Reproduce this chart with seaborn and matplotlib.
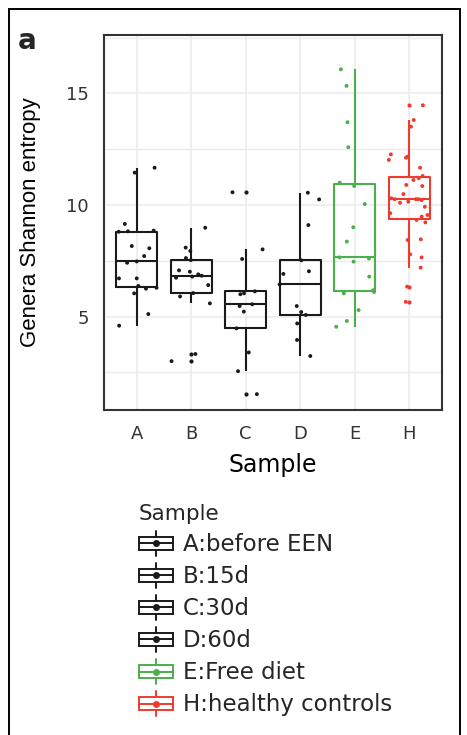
import numpy as np
import pandas as pd
import matplotlib
matplotlib.use('Agg')
import matplotlib.pyplot as plt
import seaborn as sns
from matplotlib.legend_handler import HandlerBase
from matplotlib.patches import Rectangle
from matplotlib.lines import Line2D

# ---------------- data ----------------
categories = ['A', 'B', 'C', 'D', 'E', 'H']
legend_labels = ['A:before EEN', 'B:15d', 'C:30d', 'D:60d', 'E:Free diet', 'H:healthy controls']

values_A = [4.59, 5.11, 6.04, 6.25, 6.29, 6.37, 6.71, 6.71, 7.41, 7.47, 7.71, 8.06, 8.16,
            8.80, 8.82, 8.85, 9.15, 11.45, 11.67]
values_B = [3.00, 3.32, 5.59, 5.90, 6.05, 6.41, 6.74, 6.79, 6.83, 6.89, 7.01, 7.07, 7.53,
            7.62, 7.94, 8.09, 8.98]
values_C = [1.52, 2.55, 3.39, 4.47, 5.22, 5.47, 5.55, 6.00, 6.04, 6.13, 7.58, 8.01, 10.57]
values_D = [3.23, 3.95, 4.69, 5.07, 5.20, 5.47, 6.44, 6.91, 7.03, 7.52, 9.10, 10.25, 10.55]
values_E = [4.54, 4.80, 5.29, 6.04, 6.10, 6.18, 6.79, 7.46, 7.60, 7.65, 8.36, 9.00, 10.04,
            10.85, 11.00, 12.59, 13.71, 15.34, 16.08]
values_H = [5.66, 6.34, 7.19, 7.65, 7.79, 8.43, 8.46, 9.22, 9.33, 9.48, 9.55, 9.63, 9.92,
            10.10, 10.15, 10.22, 10.26, 10.26, 10.26, 10.30, 10.49, 10.85, 10.90, 11.12,
            11.20, 11.30, 11.67, 12.02, 12.12, 12.17, 12.27, 13.51, 13.81, 14.47]

y_ticks = [5, 10, 15]

# ---------------- styles ----------------
colors = ['#1a1a1a', '#1a1a1a', '#1a1a1a', '#1a1a1a', '#4cae4c', '#ee3b2e']
palette = dict(zip(categories, colors))

all_values = [values_A, values_B, values_C, values_D, values_E, values_H]
df = pd.DataFrame({
    'Sample': np.concatenate([[c] * len(v) for c, v in zip(categories, all_values)]),
    'Entropy': np.concatenate(all_values),
})

sns.set_theme(style='white')
plt.rcParams['font.family'] = ['DejaVu Sans']

W, H = 467, 735
fig = plt.figure(figsize=(W / 100, H / 100), dpi=100)
fig.patch.set_facecolor('white')

def fx(px):
    return px / W

def fy(py):
    return 1 - py / H

ax = fig.add_axes([fx(104), fy(410), fx(442) - fx(104), fy(35) - fy(410)])

sns.boxplot(data=df, x='Sample', y='Entropy', hue='Sample', order=categories,
            hue_order=categories, palette=palette, fill=False, width=0.75,
            linewidth=1.5, whis=1.5, showcaps=False, dodge=False, legend=False,
            flierprops=dict(marker='o', markersize=3.0), ax=ax, zorder=2)
for ln in ax.lines:
    m = ln.get_marker()
    if m not in (None, 'None', '', ' '):
        ln.set_markerfacecolor(ln.get_markeredgecolor())
        ln.set_markeredgewidth(0)

np.random.seed(7)
sns.stripplot(data=df, x='Sample', y='Entropy', hue='Sample', order=categories,
              hue_order=categories, palette=palette, jitter=0.38, size=2.8,
              linewidth=0, legend=False, ax=ax, zorder=3)

ax.set_xlim(-0.6, 5.6)
ax.set_ylim(0.81, 17.62)
ax.set_yticks(y_ticks)
ax.set_yticks([2.5, 7.5, 12.5, 17.5], minor=True)
ax.set_xticks(range(len(categories)))
ax.set_xticklabels(categories)
ax.grid(True, which='major', color='#ebebeb', linewidth=1.1, zorder=0)
ax.grid(True, which='minor', axis='y', color='#ebebeb', linewidth=1.0, zorder=0)
ax.set_axisbelow(True)
for sp in ax.spines.values():
    sp.set_visible(True)
    sp.set_color('#333333')
    sp.set_linewidth(1.5)
ax.tick_params(axis='both', which='major', length=6, width=1.2, color='#333333',
               labelcolor='#333333', labelsize=13, pad=5)
ax.tick_params(axis='both', which='minor', length=0)
ax.set_xlabel('')
ax.set_ylabel('')

# axis titles
fig.text(fx(273), fy(465), 'Sample', ha='center', va='center', fontsize=17, color='black')
fig.text(fx(31), fy(222), 'Genera Shannon entropy', ha='center', va='center',
         rotation=90, fontsize=16, color='black', family=['Liberation Sans', 'DejaVu Sans'])

# panel letter
fig.text(fx(18), fy(49), 'a', ha='left', va='baseline', fontsize=20, fontweight='bold')

# legend
class BoxKeyHandler(HandlerBase):
    def create_artists(self, legend, orig_handle, xdescent, ydescent, width, height,
                       fontsize, trans):
        c = orig_handle.get_color()
        x0, y0 = -xdescent, -ydescent
        cx, cy = x0 + width / 2, y0 + height / 2
        bh = height * 0.54
        lw = 1.4
        box = Rectangle((x0, cy - bh / 2), width, bh, fill=False, edgecolor=c, lw=lw,
                        transform=trans)
        med = Line2D([x0, x0 + width], [cy, cy], color=c, lw=lw, transform=trans)
        w1 = Line2D([cx, cx], [cy + bh / 2, y0 + height], color=c, lw=lw, transform=trans)
        w2 = Line2D([cx, cx], [y0, cy - bh / 2], color=c, lw=lw, transform=trans)
        dot = Line2D([cx], [cy], marker='o', markersize=5, color=c, ls='none',
                     markeredgewidth=0, transform=trans)
        return [box, med, w1, w2, dot]

handles = [Line2D([], [], color=c) for c in colors]
leg = fig.legend(handles, legend_labels, loc='upper left',
                 bbox_to_anchor=(fx(139), fy(504)), frameon=False, title='Sample',
                 fontsize=16.5, title_fontsize=15.5, handler_map={Line2D: BoxKeyHandler()},
                 handlelength=1.48, handleheight=1.3, handletextpad=0.45,
                 labelspacing=0.3, borderpad=0, borderaxespad=0, alignment='left')

# outer frame
fig.patches.append(Rectangle((fx(9), -0.02), fx(460) - fx(9), fy(9) + 0.02, fill=False,
                             edgecolor='black', lw=1.4, transform=fig.transFigure,
                             figure=fig))

fig.savefig('out.png', dpi=100)
